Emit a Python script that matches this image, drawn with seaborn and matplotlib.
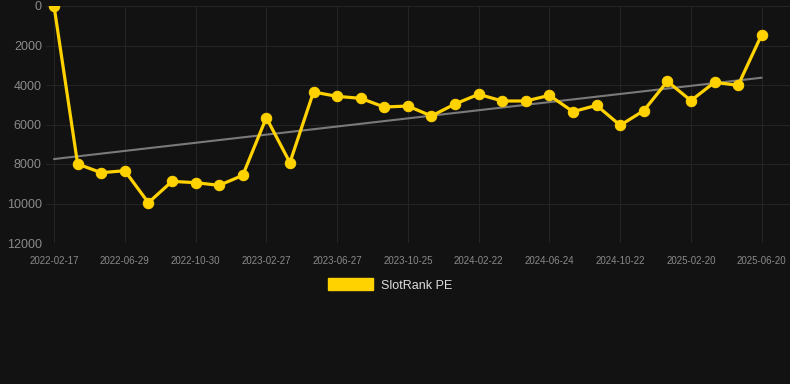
import numpy as np
import pandas as pd
import seaborn as sns
import matplotlib.pyplot as plt
from matplotlib.patches import Patch

# values (rank, lower is better -> inverted axis)
rank = [0, 8000, 8440, 8340, 9960, 8880, 8945, 9080, 8575, 5655, 7930,
        4355, 4575, 4675, 5115, 5065, 5570, 4960, 4470, 4810, 4810, 4525,
        5350, 5030, 6040, 5300, 3815, 4790, 3865, 4015, 1450]
tick_labels = ['2022-02-17', '2022-06-29', '2022-10-30', '2023-02-27',
               '2023-06-27', '2023-10-25', '2024-02-22', '2024-06-24',
               '2024-10-22', '2025-02-20', '2025-06-20']
series_name = 'SlotRank PE'

df = pd.DataFrame({'idx': np.arange(len(rank)), 'rank': rank})

bg = '#121212'
sns.set_theme(style='dark')
plt.rcParams['font.family'] = ['Liberation Sans', 'DejaVu Sans']

fig = plt.figure(figsize=(7.9, 3.84), dpi=100, facecolor=bg)
ax = fig.add_axes([46 / 790, 1 - 243 / 384, 744 / 790, 237 / 384])
ax.set_facecolor(bg)

# trend line
k, b = np.polyfit(df['idx'], df['rank'], 1)
ax.plot(df['idx'], k * df['idx'] + b, color='#7a7a7a', lw=1.5, zorder=2)

sns.lineplot(data=df, x='idx', y='rank', ax=ax, color='#FFD200', lw=2.3,
             marker='o', markersize=7.5, markeredgecolor='#FFD200', zorder=3)

ax.set_xlim(-0.34, 31.2)
ax.set_ylim(12000, 0)
ax.set_yticks(range(0, 12001, 2000))
ax.set_xticks(range(0, len(rank), 3))
ax.set_xticklabels(tick_labels)
ax.tick_params(axis='y', colors='#8a8a8a', labelsize=9, length=0, pad=3)
ax.tick_params(axis='x', colors='#8a8a8a', labelsize=7, length=0, pad=9)
ax.grid(True, color='#242424', lw=0.8)
ax.set_xlabel('')
ax.set_ylabel('')
for s in ax.spines.values():
    s.set_visible(False)

fig.legend(handles=[Patch(color='#FFD200', label=series_name)],
           loc='center', bbox_to_anchor=(390 / 790, 1 - 285 / 384),
           frameon=False, labelcolor='#dddddd', fontsize=9,
           handlelength=3.6, handleheight=1.1, handletextpad=0.6)

fig.savefig('out.png', dpi=100, facecolor=bg)
